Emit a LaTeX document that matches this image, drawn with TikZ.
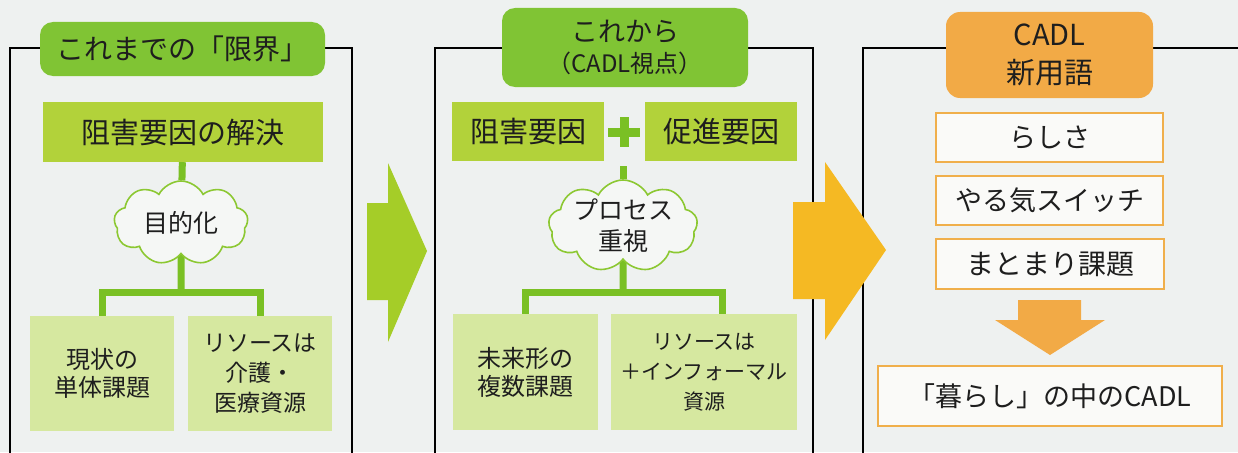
\documentclass[tikz,border=0pt]{standalone}
\usepackage{fontspec}
\setmainfont{Noto Sans CJK JP}
\usetikzlibrary{shapes.symbols}
\pgfdeclarelayer{bg}\pgfdeclarelayer{edges}\pgfsetlayers{bg,edges,main}
\definecolor{bgc}{RGB}{238,241,240}
\definecolor{ink}{RGB}{30,30,30}
\definecolor{tgreen}{RGB}{128,196,52}
\definecolor{bgreen}{RGB}{178,210,58}
\definecolor{pgreen}{RGB}{214,232,160}
\definecolor{cgreen}{RGB}{122,192,36}
\definecolor{cloudc}{RGB}{140,200,50}
\definecolor{cloudf}{RGB}{245,247,245}
\definecolor{agreen}{RGB}{165,205,40}
\definecolor{aorange}{RGB}{245,185,35}
\definecolor{torange}{RGB}{242,170,70}
\definecolor{oborder}{RGB}{240,175,75}
\definecolor{owhite}{RGB}{250,250,248}
\newcommand\fsz[2]{\fontsize{#1}{#2}\selectfont}
\tikzset{
 txt/.style={text=ink, align=center, inner sep=0pt},
 gtitle/.style={txt, fill=tgreen, rounded corners=13pt},
 otitle/.style={txt, fill=torange, rounded corners=14pt},
 gbox/.style={txt, fill=bgreen},
 pbox/.style={txt, fill=pgreen},
 obox/.style={txt, fill=owhite, draw=oborder, line width=2pt},
 conn/.style={draw=cgreen, line width=7pt},
 plusline/.style={draw=cgreen, line width=9pt},
 frameline/.style={draw=black, line width=1.4pt},
 cloudbox/.style={cloud, cloud puffs=9, cloud puff arc=125, aspect=1.6, draw=cloudc, line width=1.6pt, fill=cloudf, inner sep=0pt},
}
\begin{document}
\begin{tikzpicture}[x=1pt,y=-1pt]
\useasboundingbox (0,0) rectangle (1238,452);
\begin{pgfonlayer}{bg}
\fill[bgc] (0,0) rectangle (1238,452);
\end{pgfonlayer}

% ---------- panel 1 ----------
\node[gtitle, minimum width=285pt, minimum height=54pt, font={\fsz{28}{32}}] (t1) at (182.5,49) {これまでの「限界」};
\node[gbox, minimum width=280pt, minimum height=60pt, font={\fsz{29}{33}}] (b1) at (183,132) {阻害要因の解決};
\node[cloudbox, minimum width=134pt, minimum height=84pt] (c1) at (181,223) {};
\node[txt, font={\fsz{25}{29}}] (c1t) at (c1.center) {目的化};
\node[pbox, minimum width=144pt, minimum height=115pt, font={\fsz{24}{28}}] (l1) at (102,373.5) {現状の\\単体課題};
\node[pbox, minimum width=144pt, minimum height=115pt, font={\fsz{23}{30}}] (r1) at (260,373.5) {リソースは\\介護・\\医療資源};
\coordinate (bar1) at (181,292);

% ---------- panel 2 ----------
\node[gtitle, minimum width=246pt, minimum height=79pt, font={\fsz{27}{31}}] (t2) at (625,47.5) {これから\\\fsz{24}{31}（CADL視点）};
\node[gbox, minimum width=152pt, minimum height=59pt, font={\fsz{29}{33}}] (p1) at (528,131.5) {阻害要因};
\node[gbox, minimum width=152pt, minimum height=59pt, font={\fsz{29}{33}}] (p2) at (721,131.5) {促進要因};
\coordinate (plus) at (624,132);
\coordinate (j2) at (623,166);
\node[cloudbox, minimum width=149pt, minimum height=92pt] (c2) at (623,226) {};
\node[txt, font={\fsz{25}{31}}] (c2t) at (c2.center) {プロセス\\重視};
\node[pbox, minimum width=145pt, minimum height=116pt, font={\fsz{24}{28}}] (l2) at (525.5,372) {未来形の\\複数課題};
\node[pbox, minimum width=186pt, minimum height=116pt, font={\fsz{21}{30}}] (r2) at (704,372) {リソースは\\＋インフォーマル\\資源};
\coordinate (bar2) at (623,292);
\coordinate (r2v) at ([xshift=18pt]r2.center);

% ---------- panel 3 ----------
\node[otitle, minimum width=207pt, minimum height=86pt, font={\fsz{29}{38}}] (t3) at (1049.5,55) {CADL\\新用語};
\node[obox, minimum width=227pt, minimum height=49pt, font={\fsz{27}{30}}] (s1) at (1049.5,137.5) {らしさ};
\node[obox, minimum width=227pt, minimum height=49pt, font={\fsz{27}{30}}] (s2) at (1049.5,200.5) {やる気スイッチ};
\node[obox, minimum width=228pt, minimum height=50pt, font={\fsz{28}{30}}] (s3) at (1050,264) {まとまり課題};
\node[obox, minimum width=344pt, minimum height=60pt, font={\fsz{27}{30}}] (s4) at (1050,396) {「暮らし」の中のCADL};

% ---------- frames and connectors ----------
\begin{pgfonlayer}{edges}
\draw[frameline] (10,455) -- (10,48) -- (352,48) -- (352,455);
\draw[frameline] (435,455) -- (435,48) -- (813,48) -- (813,455);
\draw[frameline] (863,455) -- (863,48) -- (1245,48);
\draw[conn] (b1) -- (c1);
\draw[conn] (c1) -- (bar1);
\draw[conn] (l1.center) -- (l1 |- bar1) -- (r1 |- bar1) -- (r1.center);
\draw[conn] (j2) -- (c2);
\draw[conn] (c2) -- (bar2);
\draw[conn] (l2.center) -- (l2 |- bar2) -- (r2v |- bar2) -- (r2v);
\end{pgfonlayer}
\draw[plusline] (plus) ++(0,-15) -- ++(0,30);
\draw[plusline] (plus) ++(-16,0) -- ++(32,0);

% ---------- big arrows ----------
\fill[agreen] (367,203) -- (388,203) -- (388,163) -- (427,251) -- (388,342) -- (388,300) -- (367,300) -- cycle;
\fill[aorange] (793,202) -- (825,202) -- (825,162) -- (886,250) -- (825,340) -- (825,299) -- (793,299) -- cycle;
\fill[torange] (1018,300) -- (1081,300) -- (1081,320) -- (1105,320) -- (1050,355) -- (995,320) -- (1018,320) -- cycle;
\end{tikzpicture}
\end{document}
